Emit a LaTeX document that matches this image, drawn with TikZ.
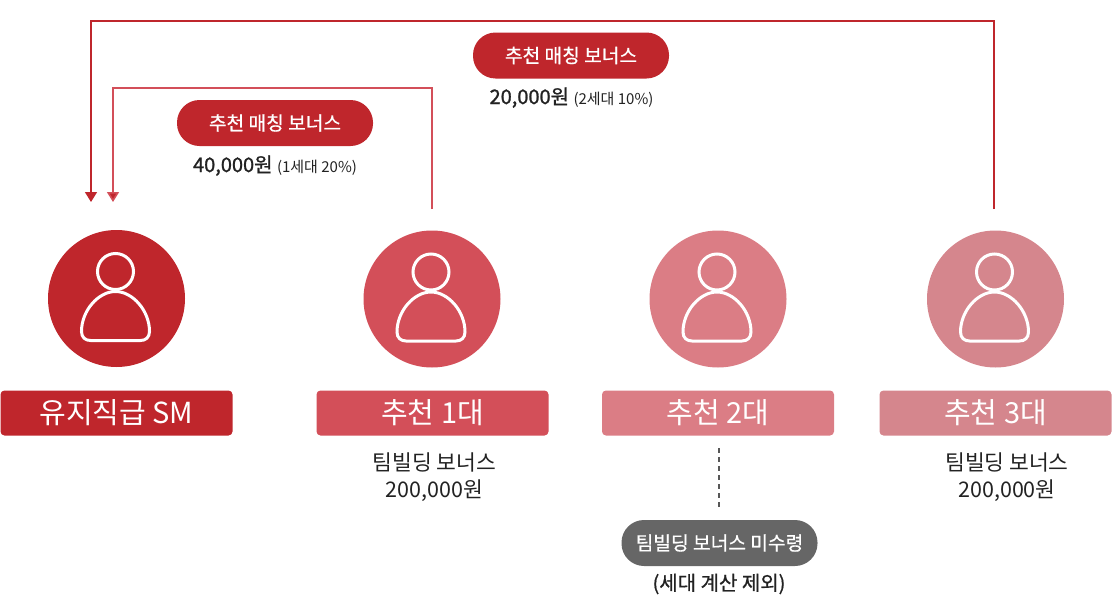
\documentclass[tikz,border=0pt]{standalone}
\usepackage{fontspec}
\setmainfont{Noto Sans CJK KR}
\newfontfamily\med[FakeBold=0.7]{Noto Sans CJK KR}
\newfontfamily\bld[FakeBold=1.2]{Noto Sans CJK KR}
\usetikzlibrary{arrows.meta}
\definecolor{cA}{HTML}{BF262C}
\definecolor{cB}{HTML}{D34F59}
\definecolor{cC}{HTML}{DB7D85}
\definecolor{cD}{HTML}{D5868D}
\definecolor{cG}{HTML}{666666}
\definecolor{cT}{HTML}{222222}
\tikzset{
  person/.style={circle,minimum size=137pt,inner sep=0pt,fill=#1},
  bar/.style={rectangle,rounded corners=4pt,minimum width=232pt,minimum height=45pt,inner sep=0pt,fill=#1,text=white,font=\fontsize{29}{32}\selectfont},
  pill/.style={rectangle,rounded corners=22.5pt,minimum width=196pt,minimum height=46pt,inner sep=0pt,fill=#1,text=white,font=\med\fontsize{19.2}{22}\selectfont},
  amount/.style={text=cT,inner sep=0pt,font=\fontsize{20}{24}\selectfont},
  bonus/.style={text=cT,inner sep=0pt,align=center,font=\fontsize{21.5}{27}\selectfont},
  link/.style={line width=1.6pt,-{Triangle[length=10pt,width=12pt,fill=cA]}},
  icon/.style={draw=white,line width=3pt,fill=none},
}
\newcommand{\usericon}[1]{%
  \draw[icon] ([xshift=-1pt,yshift=27pt]#1.center) circle (18pt);
  \draw[icon] ([xshift=-35pt,yshift=-33pt]#1.center)
     .. controls ([xshift=-35pt,yshift=-12pt]#1.center) and ([xshift=-18pt,yshift=7pt]#1.center) .. ([xshift=-1pt,yshift=7pt]#1.center)
     .. controls ([xshift=16pt,yshift=7pt]#1.center) and ([xshift=33pt,yshift=-12pt]#1.center) .. ([xshift=33pt,yshift=-33pt]#1.center)
     .. controls ([xshift=33pt,yshift=-39pt]#1.center) and ([xshift=29pt,yshift=-42pt]#1.center) .. ([xshift=24pt,yshift=-42pt]#1.center)
     -- ([xshift=-26pt,yshift=-42pt]#1.center)
     .. controls ([xshift=-31pt,yshift=-42pt]#1.center) and ([xshift=-35pt,yshift=-39pt]#1.center) .. cycle;
}
\begin{document}
\begin{tikzpicture}[x=1pt,y=-1pt]
\useasboundingbox (0,0) rectangle (1112,616);
% people
\node[person=cA] (p0) at (116.5,298.5) {};
\node[person=cB] (p1) at (432,299) {};
\node[person=cC] (p2) at (718,299) {};
\node[person=cD] (p3) at (995.5,299) {};
\usericon{p0}\usericon{p1}\usericon{p2}\usericon{p3}
% rank bars
\node[bar=cA] (b0) at (116.5,413) {\raisebox{1pt}{유지직급 SM}};
\node[bar=cB] (b1) at (432.5,413) {\raisebox{1pt}{추천 1대}};
\node[bar=cC] (b2) at (718,413) {\raisebox{1pt}{추천 2대}};
\node[bar=cD] (b3) at (995.5,413) {\raisebox{1pt}{추천 3대}};
% connectors
\coordinate (s1) at (432,209);
\coordinate (s3) at (994,209);
\coordinate (e1) at (113,202);
\coordinate (e3) at (91,202);
\draw[link,cA] (s3) -- (994,21) -- (91,21) -- (e3);
\draw[link,cB] (s1) -- (432,88) -- (113,88) -- (e1);
% pills
\node[pill=cA] (m1) at (275,123) {\raisebox{1pt}{추천 매칭 보너스}};
\node[pill=cA] (m2) at (571,55.5) {\raisebox{1pt}{추천 매칭 보너스}};
\node[amount,anchor=base] (a1) at (275,172) {{\bld 40,000원} {\fontsize{15}{18}\selectfont (1세대 20\%)}};
\node[amount,anchor=base] (a2) at (571.5,104) {{\bld 20,000원} {\fontsize{15}{18}\selectfont (2세대 10\%)}};
% bonus
\node[bonus] (t1) at (434.5,477) {팀빌딩 보너스\\200,000원};
\node[bonus] (t3) at (1007,477) {팀빌딩 보너스\\200,000원};
% not received
\node[pill=cG] (m3) at (719.5,543) {\raisebox{1pt}{팀빌딩 보너스 미수령}};
\coordinate (d1) at (718.5,448);
\coordinate (d2) at (718.5,507);
\draw[cG!85!black,line width=2pt,dash pattern=on 5pt off 4pt] (d1) -- (d2);
\node[text=cT,inner sep=0pt,font=\med\fontsize{20}{24}\selectfont] (n) at (719,584) {(세대 계산 제외)};
\end{tikzpicture}
\end{document}
